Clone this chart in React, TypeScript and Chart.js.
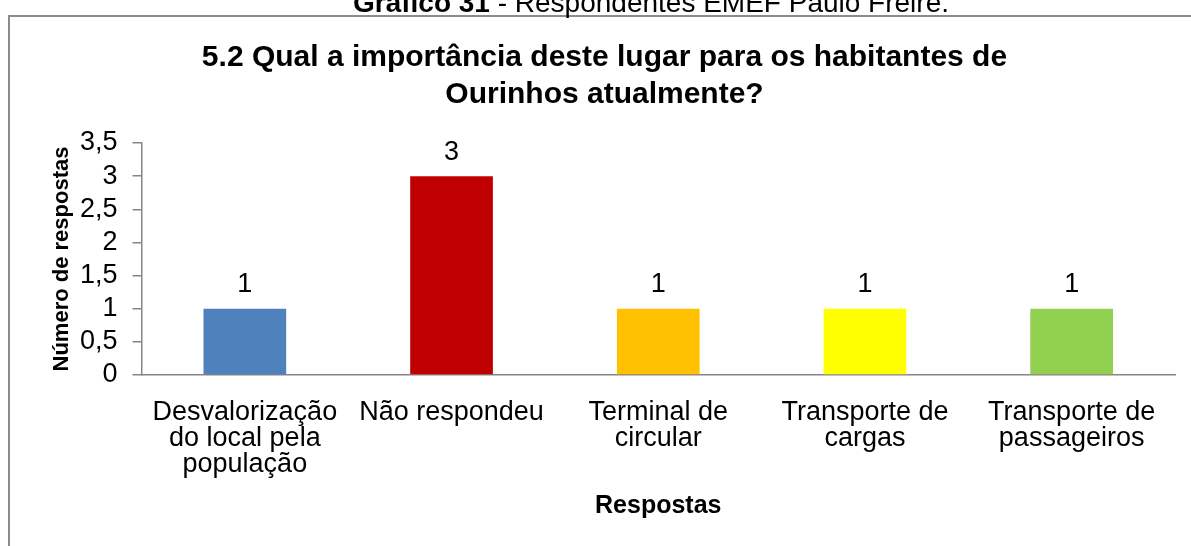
import React, { useEffect, useRef } from "react";
import { Chart, registerables } from "chart.js";

Chart.register(...registerables);

const categories: string[][] = [
  ["Desvalorização", "do local pela", "população"],
  ["Não respondeu"],
  ["Terminal de", "circular"],
  ["Transporte de", "cargas"],
  ["Transporte de", "passageiros"],
];
const values: number[] = [1, 3, 1, 1, 1];
const barColors: string[] = ["#4F81BD", "#C00000", "#FFC000", "#FFFF00", "#92D050"];
const yTicks: number[] = [0, 0.5, 1, 1.5, 2, 2.5, 3, 3.5];

const chartTitle = ["5.2 Qual a importância deste lugar para os habitantes de", "Ourinhos atualmente?"];
const captionBold = "Gráfico 31";
const captionRest = " - Respondentes EMEF Paulo Freire.";
const yTitle = "Número de respostas";
const xTitle = "Respostas";

const FONT = "'Liberation Sans', Arial, sans-serif";
const AXIS = "#868686";

const framePlugin = {
  id: "frame",
  beforeDraw(chart: any) {
    const ctx = chart.ctx;
    ctx.save();
    ctx.fillStyle = "#ffffff";
    ctx.fillRect(0, 0, chart.width, chart.height);
    ctx.strokeStyle = "#8c8c8c";
    ctx.lineWidth = 2;
    ctx.strokeRect(9, 16, chart.width + 20, chart.height + 20);
    ctx.fillStyle = "#000";
    ctx.textBaseline = "alphabetic";
    ctx.font = `bold 28px ${FONT}`;
    const wb = ctx.measureText(captionBold).width;
    ctx.font = `28px ${FONT}`;
    const wr = ctx.measureText(captionRest).width;
    const x0 = 651 - (wb + wr) / 2;
    ctx.font = `bold 28px ${FONT}`;
    ctx.fillText(captionBold, x0, 12);
    ctx.font = `28px ${FONT}`;
    ctx.fillText(captionRest, x0 + wb, 12);
    ctx.restore();
  },
};

const labelPlugin = {
  id: "barLabels",
  afterDatasetsDraw(chart: any) {
    const ctx = chart.ctx;
    const meta = chart.getDatasetMeta(0);
    ctx.save();
    ctx.fillStyle = "#000";
    ctx.font = `27px ${FONT}`;
    ctx.textAlign = "center";
    ctx.textBaseline = "middle";
    meta.data.forEach((el: any, i: number) => {
      ctx.fillText(String(values[i]), el.x, el.y - 24);
    });
    ctx.restore();
  },
};

export default function App() {
  const ref = useRef<HTMLCanvasElement | null>(null);
  useEffect(() => {
    if (!ref.current) return;
    const chart = new Chart(ref.current, {
      type: "bar",
      data: {
        labels: categories,
        datasets: [
          {
            data: values,
            backgroundColor: barColors,
            borderWidth: 0,
            barPercentage: 0.4,
            categoryPercentage: 1,
          },
        ],
      },
      options: {
        responsive: false,
        animation: false,
        devicePixelRatio: 1,
        layout: { padding: { left: 34, right: 16, top: 0, bottom: 0 } },
        plugins: {
          legend: { display: false },
          tooltip: { enabled: false },
          title: {
            display: true,
            text: chartTitle,
            color: "#000",
            font: { family: FONT, size: 30, weight: "bold", lineHeight: 1.233 },
            padding: { top: 39.5, bottom: 29.5 },
          },
        },
        scales: {
          x: {
            grid: { display: false },
            border: { display: true, color: AXIS, width: 1.5 },
            ticks: {
              color: "#000",
              font: { family: FONT, size: 27, lineHeight: 0.963 },
              padding: 17,
              maxRotation: 0,
              autoSkip: false,
            },
            title: {
              display: true,
              text: xTitle,
              color: "#000",
              font: { family: FONT, size: 25, weight: "bold", lineHeight: 1.2 },
              padding: { top: 0, bottom: 25 },
            },
            afterFit: (scale: any) => {
              scale.height = 171;
            },
          },
          y: {
            min: 0,
            max: 3.5,
            afterBuildTicks: (scale: any) => {
              scale.ticks = yTicks.map((v) => ({ value: v }));
            },
            grid: {
              display: true,
              drawOnChartArea: false,
              drawTicks: true,
              tickLength: 9,
              color: AXIS,
              lineWidth: 1.5,
            },
            border: { display: true, color: AXIS, width: 1.5 },
            ticks: {
              color: "#000",
              font: { family: FONT, size: 27 },
              padding: 15,
              autoSkip: false,
              callback: (v: any) => String(v).replace(".", ","),
            },
            title: {
              display: true,
              text: yTitle,
              color: "#000",
              font: { family: FONT, size: 22, weight: "bold", lineHeight: 1.2 },
              padding: { top: 14.8, bottom: 0 },
            },
            afterFit: (scale: any) => {
              scale.width = 107.5;
            },
          },
        },
      },
      plugins: [framePlugin, labelPlugin],
    });
    return () => chart.destroy();
  }, []);
  return (
    <div style={{ position: "fixed", left: 0, top: 0, width: 1191, height: 546, background: "#fff" }}>
      <canvas ref={ref} width={1191} height={546} style={{ display: "block" }} />
    </div>
  );
}
